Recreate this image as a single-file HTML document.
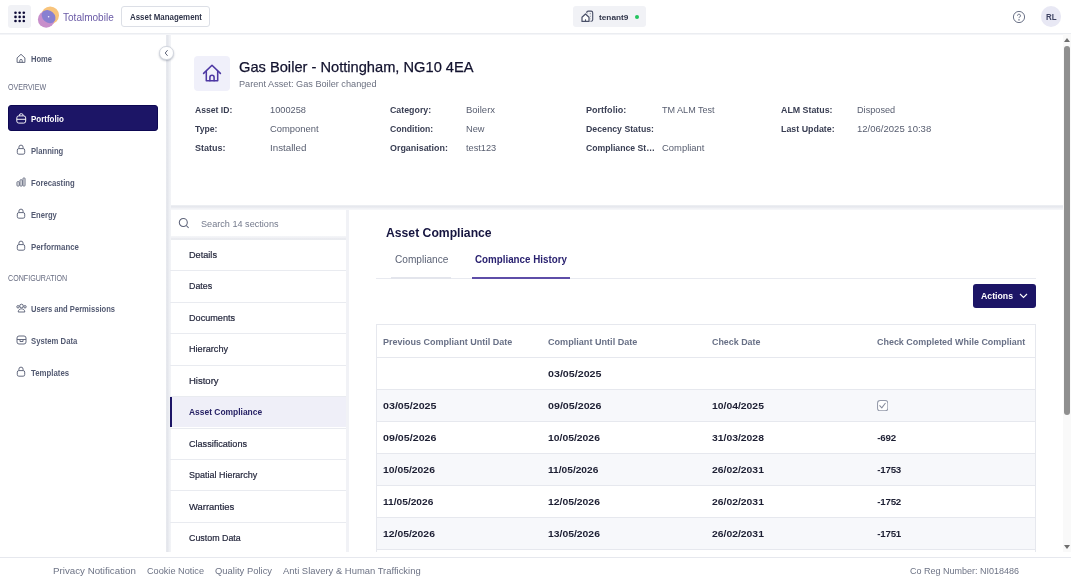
<!DOCTYPE html>
<html><head><meta charset="utf-8"><title>Asset Compliance</title>
<style>
html,body{margin:0;padding:0;width:1071px;height:581px;overflow:hidden;background:#fff;font-family:"Liberation Sans", Arial, sans-serif;}
.t{position:absolute;white-space:nowrap;transform-origin:0 0;}
</style></head><body>
<div style="position:absolute;left:0px;top:33px;width:1071px;height:2px;background:linear-gradient(to bottom,#ebedf1 0,#ebedf1 50%,#f4f5f8 50%)"></div>
<div style="position:absolute;left:8px;top:5px;width:23px;height:23px;background:#f1f2f6;border-radius:3px"></div>
<svg style="position:absolute;left:8px;top:5px" width="23" height="23" viewBox="0 0 23 23" fill="#0d0a36"><circle cx="7.50" cy="7.80" r="1.3"/><circle cx="7.50" cy="11.90" r="1.3"/><circle cx="7.50" cy="16.00" r="1.3"/><circle cx="11.65" cy="7.80" r="1.3"/><circle cx="11.65" cy="11.90" r="1.3"/><circle cx="11.65" cy="16.00" r="1.3"/><circle cx="15.80" cy="7.80" r="1.3"/><circle cx="15.80" cy="11.90" r="1.3"/><circle cx="15.80" cy="16.00" r="1.3"/></svg>
<svg style="position:absolute;left:35px;top:3px" width="28" height="28" viewBox="0 0 28 28">
<circle cx="15.2" cy="12.3" r="8.8" fill="#f8c47c"/>
<circle cx="11.2" cy="16.4" r="8.3" fill="#c88fcb"/>
<ellipse cx="13.6" cy="13.6" rx="7.5" ry="6" transform="rotate(42 13.6 13.6)" fill="#8880d1"/>
<circle cx="13.6" cy="13.7" r="0.8" fill="#f4f0ff"/>
</svg>
<div class="t" style="left:63.2px;top:12px;font-size:11.45px;line-height:11.45px;font-weight:400;color:#6a5aa6;transform:scaleX(0.877);">Totalmobile</div>
<div style="position:absolute;left:121px;top:6px;width:89px;height:20.5px;border:1px solid #dcdfe6;border-radius:3px;box-sizing:border-box"></div>
<div class="t" style="left:129.7px;top:13px;font-size:9.08px;line-height:9.08px;font-weight:700;color:#30354a;transform:scaleX(0.870);">Asset Management</div>
<div style="position:absolute;left:572.5px;top:6px;width:73.5px;height:20.5px;background:#f1f2f6;border-radius:3px"></div>
<svg style="position:absolute;left:580px;top:9px" width="14" height="14" viewBox="0 0 14 14" fill="none">
<rect x="6.7" y="2.1" width="6" height="10.2" rx="1.6" stroke="#4a5068" stroke-width="1.1"/>
<path d="M9.7 4.7h1.3M9.7 7.3h1.3M9.7 9.8h1.3" stroke="#9096a6" stroke-width="1"/>
<path d="M2 12.4V8.3L5.5 5 9 8.3v4.1z" fill="#f1f2f6" stroke="#f1f2f6" stroke-width="3" stroke-linejoin="round"/>
<path d="M2 12.4V8.3L5.5 5 9 8.3v4.1z" fill="#fff" stroke="#4a5068" stroke-width="1.2" stroke-linejoin="round"/>
<path d="M5.5 10.3v2.1" stroke="#4a5068" stroke-width="1.1"/>
</svg>
<div class="t" style="left:599.2px;top:14px;font-size:8.1px;line-height:8.1px;font-weight:700;color:#30354a;transform:scaleX(1.021);">tenant9</div>
<div style="position:absolute;left:634.5px;top:14.7px;width:4px;height:4px;background:#22c55e;border-radius:50%"></div>
<svg style="position:absolute;left:1012px;top:10px" width="14" height="14" viewBox="0 0 14 14" fill="none" stroke="#646b82" stroke-width="0.95">
<circle cx="7" cy="7" r="5.6"/><path d="M5.5 5.7a1.5 1.5 0 1 1 2.2 1.3c-.5.3-.7.6-.7 1.1"/><circle cx="7" cy="9.9" r=".3" fill="#646b82"/>
</svg>
<div style="position:absolute;left:1040.6px;top:6.3px;width:20.8px;height:20.8px;background:#e8e8f4;border-radius:50%"></div>
<div class="t" style="left:1045.7px;top:12px;font-size:9.5px;line-height:9.5px;font-weight:700;color:#3d4262;transform:scaleX(0.837);">RL</div>
<div style="position:absolute;left:166px;top:35px;width:4.7px;height:516.5px;background:linear-gradient(to right,#e8eaef 0,#e4e6ec 35%,#eef0f4 65%,#f3f4f7 100%)"></div>
<div style="position:absolute;left:170.7px;top:204.6px;width:892.3px;height:5px;background:linear-gradient(to bottom,#eff1f4 0,#e5e7ed 35%,#f0f1f5 65%,#f7f8fa 100%)"></div>
<div style="position:absolute;left:346px;top:209.6px;width:3px;height:342px;background:#f1f2f6"></div>
<div style="position:absolute;left:1063px;top:34px;width:8px;height:517.5px;background:#f9f9f9"></div>
<div style="position:absolute;left:1064px;top:46px;width:6px;height:369px;background:#8f8f8f;border-radius:3px"></div>
<div style="position:absolute;left:1064px;top:37.5px;width:0;height:0;border-left:3.5px solid transparent;border-right:3.5px solid transparent;border-bottom:4px solid #6e6e6e"></div>
<div style="position:absolute;left:1064px;top:544.9px;width:0;height:0;border-left:3px solid transparent;border-right:3px solid transparent;border-top:4.3px solid #6e6e6e"></div>
<div style="position:absolute;left:159.4px;top:45.8px;width:12.6px;height:12.6px;border-radius:50%;background:#fff;border:1px solid #d3d7df;box-shadow:0 1px 2px rgba(40,50,80,.28)"></div>
<svg style="position:absolute;left:163px;top:49px" width="7" height="8" viewBox="0 0 7 8"><path d="M4.6 1.2L2.2 4l2.4 2.8" fill="none" stroke="#4a5068" stroke-width="0.9"/></svg>
<svg style="position:absolute;left:16px;top:52.6px" width="10" height="11" viewBox="0 0 10 11" fill="none" stroke="#5d6379" stroke-width="0.95" stroke-linejoin="round"><path d="M1.1 9.4V4.9L5 1.3l3.9 3.6v4.5z"/><path d="M3.8 9.4V7.6a1.2 1.2 0 0 1 2.4 0v1.8"/></svg>
<div class="t" style="left:30.5px;top:56px;font-size:8.24px;line-height:8.24px;font-weight:700;color:#535a72;transform:scaleX(0.922);">Home</div>
<div class="t" style="left:7.8px;top:83px;font-size:8.8px;line-height:8.8px;font-weight:400;color:#666b80;transform:scaleX(0.808);">OVERVIEW</div>
<div style="position:absolute;left:8px;top:105px;width:150.2px;height:26px;background:#1c1566;border:1px solid #0d0852;border-radius:3px;box-sizing:border-box"></div>
<svg style="position:absolute;left:16px;top:112.8px" width="10.5" height="11" viewBox="0 0 10.5 11" fill="none" stroke="#fff" stroke-width="0.95"><rect x="0.8" y="2.9" width="8.9" height="7.2" rx="2"/><path d="M3.4 2.9V2.3a1.6 1.6 0 0 1 1.6-1.6h.5a1.6 1.6 0 0 1 1.6 1.6v.6M0.8 6.3h8.9"/></svg>
<div class="t" style="left:30.5px;top:115px;font-size:8.52px;line-height:8.52px;font-weight:700;color:#fff;transform:scaleX(0.937);">Portfolio</div>
<svg style="position:absolute;left:16px;top:144.0px" width="10" height="11" viewBox="0 0 10 11" fill="none" stroke="#5d6379" stroke-width="0.95"><rect x="1.3" y="4.6" width="7.4" height="5.6" rx="1.5"/><path d="M2.9 4.6V3.2a2.1 2.1 0 0 1 4.2 0v1.4"/></svg>
<div class="t" style="left:30.5px;top:148px;font-size:8.24px;line-height:8.24px;font-weight:700;color:#535a72;transform:scaleX(0.928);">Planning</div>
<svg style="position:absolute;left:16px;top:176.5px" width="10" height="10" viewBox="0 0 10 10" fill="none" stroke="#5d6379" stroke-width="0.95"><rect x="1" y="4.7" width="2.2" height="4.3" rx=".6"/><rect x="4" y="2.8" width="2.2" height="6.2" rx=".6"/><rect x="7" y="1" width="2" height="8" rx=".6"/></svg>
<div class="t" style="left:30.5px;top:180px;font-size:8.24px;line-height:8.24px;font-weight:700;color:#535a72;transform:scaleX(0.936);">Forecasting</div>
<svg style="position:absolute;left:16px;top:208.0px" width="10" height="11" viewBox="0 0 10 11" fill="none" stroke="#5d6379" stroke-width="0.95"><rect x="1.3" y="4.6" width="7.4" height="5.6" rx="1.5"/><path d="M2.9 4.6V3.2a2.1 2.1 0 0 1 4.2 0v1.4"/></svg>
<div class="t" style="left:30.5px;top:212px;font-size:8.24px;line-height:8.24px;font-weight:700;color:#535a72;transform:scaleX(0.924);">Energy</div>
<svg style="position:absolute;left:16px;top:240.0px" width="10" height="11" viewBox="0 0 10 11" fill="none" stroke="#5d6379" stroke-width="0.95"><rect x="1.3" y="4.6" width="7.4" height="5.6" rx="1.5"/><path d="M2.9 4.6V3.2a2.1 2.1 0 0 1 4.2 0v1.4"/></svg>
<div class="t" style="left:30.5px;top:244px;font-size:8.24px;line-height:8.24px;font-weight:700;color:#535a72;transform:scaleX(0.953);">Performance</div>
<div class="t" style="left:7.9px;top:274px;font-size:8.8px;line-height:8.8px;font-weight:400;color:#666b80;transform:scaleX(0.809);">CONFIGURATION</div>
<svg style="position:absolute;left:16px;top:303px" width="11" height="10" viewBox="0 0 11 10" fill="none" stroke="#5d6379" stroke-width="0.95"><circle cx="5.5" cy="3" r="1.8"/><path d="M2.2 9c0-2 1.5-3.2 3.3-3.2S8.8 7 8.8 9z"/><circle cx="2" cy="3.8" r="1.2"/><circle cx="9" cy="3.8" r="1.2"/></svg>
<div class="t" style="left:30.6px;top:306px;font-size:8.24px;line-height:8.24px;font-weight:700;color:#535a72;transform:scaleX(0.923);">Users and Permissions</div>
<svg style="position:absolute;left:16px;top:335px" width="11" height="10" viewBox="0 0 11 10" fill="none" stroke="#5d6379" stroke-width="0.95"><rect x="1" y="1" width="9" height="8" rx="2"/><path d="M1 4.5h9M4 4.5v2h3v-2"/></svg>
<div class="t" style="left:30.6px;top:338px;font-size:8.24px;line-height:8.24px;font-weight:700;color:#535a72;transform:scaleX(0.936);">System Data</div>
<svg style="position:absolute;left:16px;top:366.0px" width="10" height="11" viewBox="0 0 10 11" fill="none" stroke="#5d6379" stroke-width="0.95"><rect x="1.3" y="4.6" width="7.4" height="5.6" rx="1.5"/><path d="M2.9 4.6V3.2a2.1 2.1 0 0 1 4.2 0v1.4"/></svg>
<div class="t" style="left:30.6px;top:370px;font-size:8.24px;line-height:8.24px;font-weight:700;color:#535a72;transform:scaleX(0.952);">Templates</div>
<div style="position:absolute;left:194px;top:55.5px;width:36px;height:35.5px;background:#f0f0fa;border-radius:4px"></div>
<svg style="position:absolute;left:202px;top:63px" width="20" height="20" viewBox="0 0 20 20" fill="none" stroke="#4d37a3" stroke-width="1.55" stroke-linejoin="round" stroke-linecap="round"><path d="M1.6 10.4L10 2.3l8.4 8.1"/><path d="M4.3 8.4v9.3h11.4V8.4"/><path d="M7.9 17.7v-3.3a2.1 2.1 0 0 1 4.2 0v3.3"/></svg>
<div class="t" style="left:239px;top:60px;font-size:14.94px;line-height:14.94px;font-weight:400;color:#12122e;transform:scaleX(0.981);-webkit-text-stroke:0.25px #12122e">Gas Boiler - Nottingham, NG10 4EA</div>
<div class="t" style="left:239px;top:80px;font-size:8.94px;line-height:8.94px;font-weight:400;color:#6b7080;transform:scaleX(1.027);">Parent Asset: Gas Boiler changed</div>
<div class="t" style="left:194.6px;top:105px;font-size:9.78px;line-height:9.78px;font-weight:700;color:#393e53;transform:scaleX(0.882);">Asset ID:</div>
<div class="t" style="left:270px;top:105px;font-size:9.78px;line-height:9.78px;font-weight:400;color:#575d6f;transform:scaleX(0.946);">1000258</div>
<div class="t" style="left:194.6px;top:124px;font-size:9.78px;line-height:9.78px;font-weight:700;color:#393e53;transform:scaleX(0.887);">Type:</div>
<div class="t" style="left:270px;top:124px;font-size:9.78px;line-height:9.78px;font-weight:400;color:#575d6f;transform:scaleX(0.963);">Component</div>
<div class="t" style="left:194.6px;top:143px;font-size:9.78px;line-height:9.78px;font-weight:700;color:#393e53;transform:scaleX(0.923);">Status:</div>
<div class="t" style="left:270px;top:143px;font-size:9.78px;line-height:9.78px;font-weight:400;color:#575d6f;">Installed</div>
<div class="t" style="left:390.1px;top:105px;font-size:9.78px;line-height:9.78px;font-weight:700;color:#393e53;transform:scaleX(0.903);">Category:</div>
<div class="t" style="left:466px;top:105px;font-size:9.78px;line-height:9.78px;font-weight:400;color:#575d6f;transform:scaleX(0.973);">Boilerx</div>
<div class="t" style="left:390.1px;top:124px;font-size:9.78px;line-height:9.78px;font-weight:700;color:#393e53;transform:scaleX(0.886);">Condition:</div>
<div class="t" style="left:466px;top:124px;font-size:9.78px;line-height:9.78px;font-weight:400;color:#575d6f;transform:scaleX(0.946);">New</div>
<div class="t" style="left:390.1px;top:143px;font-size:9.78px;line-height:9.78px;font-weight:700;color:#393e53;transform:scaleX(0.912);">Organisation:</div>
<div class="t" style="left:466px;top:143px;font-size:9.78px;line-height:9.78px;font-weight:400;color:#575d6f;transform:scaleX(0.944);">test123</div>
<div class="t" style="left:585.9px;top:105px;font-size:9.78px;line-height:9.78px;font-weight:700;color:#393e53;transform:scaleX(0.927);">Portfolio:</div>
<div class="t" style="left:661.8px;top:105px;font-size:9.78px;line-height:9.78px;font-weight:400;color:#575d6f;transform:scaleX(0.926);">TM ALM Test</div>
<div class="t" style="left:585.9px;top:124px;font-size:9.78px;line-height:9.78px;font-weight:700;color:#393e53;transform:scaleX(0.895);">Decency Status:</div>
<div class="t" style="left:585.9px;top:143px;font-size:9.78px;line-height:9.78px;font-weight:700;color:#393e53;transform:scaleX(0.887);">Compliance St…</div>
<div class="t" style="left:661.8px;top:143px;font-size:9.78px;line-height:9.78px;font-weight:400;color:#575d6f;transform:scaleX(0.965);">Compliant</div>
<div class="t" style="left:781.4px;top:105px;font-size:9.78px;line-height:9.78px;font-weight:700;color:#393e53;transform:scaleX(0.905);">ALM Status:</div>
<div class="t" style="left:857px;top:105px;font-size:9.78px;line-height:9.78px;font-weight:400;color:#575d6f;transform:scaleX(0.937);">Disposed</div>
<div class="t" style="left:781.4px;top:124px;font-size:9.78px;line-height:9.78px;font-weight:700;color:#393e53;transform:scaleX(0.908);">Last Update:</div>
<div class="t" style="left:857px;top:124px;font-size:9.78px;line-height:9.78px;font-weight:400;color:#575d6f;transform:scaleX(0.976);">12/06/2025 10:38</div>
<svg style="position:absolute;left:178px;top:217px" width="12" height="12" viewBox="0 0 12 12" fill="none" stroke="#5d6379" stroke-width="1.05"><circle cx="5.3" cy="5.5" r="4"/><path d="M8.3 8.5l2.3 2.3"/></svg>
<div class="t" style="left:201.2px;top:220px;font-size:9.36px;line-height:9.36px;font-weight:400;color:#747a8c;transform:scaleX(0.976);">Search 14 sections</div>
<div style="position:absolute;left:170.7px;top:235.7px;width:175.3px;height:4.1px;background:linear-gradient(to bottom,#f5f6f8 0,#f0f1f5 45%,#e6e8ed 75%,#eef0f3 100%)"></div>
<div class="t" style="left:189.1px;top:250px;font-size:9.64px;line-height:9.64px;font-weight:400;color:#1f2238;transform:scaleX(0.950);-webkit-text-stroke:0.2px #1f2238">Details</div>
<div style="position:absolute;left:170px;top:270.25px;width:176px;height:1px;background:#e9ebf0"></div>
<div class="t" style="left:189.1px;top:281px;font-size:9.64px;line-height:9.64px;font-weight:400;color:#1f2238;transform:scaleX(0.921);-webkit-text-stroke:0.2px #1f2238">Dates</div>
<div style="position:absolute;left:170px;top:301.7px;width:176px;height:1px;background:#e9ebf0"></div>
<div class="t" style="left:189.1px;top:313px;font-size:9.64px;line-height:9.64px;font-weight:400;color:#1f2238;transform:scaleX(0.946);-webkit-text-stroke:0.2px #1f2238">Documents</div>
<div style="position:absolute;left:170px;top:333.15px;width:176px;height:1px;background:#e9ebf0"></div>
<div class="t" style="left:189.1px;top:344px;font-size:9.64px;line-height:9.64px;font-weight:400;color:#1f2238;transform:scaleX(0.948);-webkit-text-stroke:0.2px #1f2238">Hierarchy</div>
<div style="position:absolute;left:170px;top:364.6px;width:176px;height:1px;background:#e9ebf0"></div>
<div class="t" style="left:189.1px;top:376px;font-size:9.64px;line-height:9.64px;font-weight:400;color:#1f2238;transform:scaleX(0.987);-webkit-text-stroke:0.2px #1f2238">History</div>
<div style="position:absolute;left:170px;top:396.05px;width:176px;height:1px;background:#e9ebf0"></div>
<div style="position:absolute;left:170px;top:397.05px;width:176px;height:30.45px;background:#efeff8"></div>
<div style="position:absolute;left:170px;top:397.05px;width:2px;height:30.45px;background:#1c1566"></div>
<div class="t" style="left:189.1px;top:407px;font-size:9.5px;line-height:9.5px;font-weight:700;color:#272265;transform:scaleX(0.888);">Asset Compliance</div>
<div style="position:absolute;left:170px;top:427.5px;width:176px;height:1px;background:#e9ebf0"></div>
<div class="t" style="left:189.1px;top:439px;font-size:9.64px;line-height:9.64px;font-weight:400;color:#1f2238;transform:scaleX(0.943);-webkit-text-stroke:0.2px #1f2238">Classifications</div>
<div style="position:absolute;left:170px;top:458.95px;width:176px;height:1px;background:#e9ebf0"></div>
<div class="t" style="left:189.1px;top:470px;font-size:9.64px;line-height:9.64px;font-weight:400;color:#1f2238;transform:scaleX(0.932);-webkit-text-stroke:0.2px #1f2238">Spatial Hierarchy</div>
<div style="position:absolute;left:170px;top:490.4px;width:176px;height:1px;background:#e9ebf0"></div>
<div class="t" style="left:189.1px;top:502px;font-size:9.64px;line-height:9.64px;font-weight:400;color:#1f2238;transform:scaleX(0.980);-webkit-text-stroke:0.2px #1f2238">Warranties</div>
<div style="position:absolute;left:170px;top:521.85px;width:176px;height:1px;background:#e9ebf0"></div>
<div class="t" style="left:189.1px;top:533px;font-size:9.64px;line-height:9.64px;font-weight:400;color:#1f2238;transform:scaleX(0.921);-webkit-text-stroke:0.2px #1f2238">Custom Data</div>
<div class="t" style="left:386.3px;top:226px;font-size:13.41px;line-height:13.41px;font-weight:700;color:#15143f;transform:scaleX(0.909);">Asset Compliance</div>
<div class="t" style="left:394.5px;top:255px;font-size:10.2px;line-height:10.2px;font-weight:400;color:#5c6376;transform:scaleX(0.993);">Compliance</div>
<div class="t" style="left:475.4px;top:255px;font-size:10.2px;line-height:10.2px;font-weight:700;color:#2a2270;transform:scaleX(0.961);">Compliance History</div>
<div style="position:absolute;left:376px;top:278px;width:660px;height:1px;background:#e8eaf0"></div>
<div style="position:absolute;left:391px;top:277px;width:60px;height:1.5px;background:#e3e5ec"></div>
<div style="position:absolute;left:472.2px;top:277px;width:98px;height:2px;background:#5e4ea8"></div>
<div style="position:absolute;left:973px;top:284px;width:63px;height:24px;background:#1c1566;border-radius:3px"></div>
<div class="t" style="left:981px;top:291px;font-size:9.5px;line-height:9.5px;font-weight:700;color:#fff;transform:scaleX(0.919);">Actions</div>
<svg style="position:absolute;left:1019px;top:292.5px" width="9" height="6" viewBox="0 0 9 6" fill="none" stroke="#fff" stroke-width="1.1"><path d="M1 1l3.5 3.5L8 1"/></svg>
<div style="position:absolute;left:376px;top:324px;width:660px;height:240px;border:1px solid #e6e8ee;box-sizing:border-box;background:#fff"></div>
<div class="t" style="left:383px;top:337px;font-size:9.78px;line-height:9.78px;font-weight:700;color:#687086;transform:scaleX(0.923);">Previous Compliant Until Date</div>
<div class="t" style="left:547.6px;top:337px;font-size:9.78px;line-height:9.78px;font-weight:700;color:#687086;transform:scaleX(0.931);">Compliant Until Date</div>
<div class="t" style="left:712.2px;top:337px;font-size:9.78px;line-height:9.78px;font-weight:700;color:#687086;transform:scaleX(0.910);">Check Date</div>
<div class="t" style="left:877.3px;top:337px;font-size:9.78px;line-height:9.78px;font-weight:700;color:#687086;transform:scaleX(0.916);">Check Completed While Compliant</div>
<div style="position:absolute;left:377px;top:357.0px;width:658px;height:1px;background:#e6e8ee"></div>
<div class="t" style="left:547.6px;top:369px;font-size:9.78px;line-height:9.78px;font-weight:700;color:#1d1f33;transform:scaleX(1.095);">03/05/2025</div>
<div style="position:absolute;left:377px;top:389.0px;width:658px;height:1px;background:#e6e8ee"></div>
<div style="position:absolute;left:377px;top:390.0px;width:658px;height:31.0px;background:#f7f8fb"></div>
<div class="t" style="left:383px;top:401px;font-size:9.78px;line-height:9.78px;font-weight:700;color:#1d1f33;transform:scaleX(1.095);">03/05/2025</div>
<div class="t" style="left:547.6px;top:401px;font-size:9.78px;line-height:9.78px;font-weight:700;color:#1d1f33;transform:scaleX(1.095);">09/05/2026</div>
<div class="t" style="left:712.2px;top:401px;font-size:9.78px;line-height:9.78px;font-weight:700;color:#1d1f33;transform:scaleX(1.062);">10/04/2025</div>
<svg style="position:absolute;left:876.8px;top:400.0px" width="11.4" height="11.4" viewBox="0 0 11.4 11.4" fill="none"><rect x=".55" y=".55" width="10.3" height="10.3" rx="2.6" fill="#fff" stroke="#959bab" stroke-width="1.05"/><path d="M2.7 5.7l2.1 2.2 3.5-4.6" stroke="#858b9c" stroke-width="1.05" stroke-linecap="round" stroke-linejoin="round"/></svg>
<div style="position:absolute;left:377px;top:421.0px;width:658px;height:1px;background:#e6e8ee"></div>
<div class="t" style="left:383px;top:433px;font-size:9.78px;line-height:9.78px;font-weight:700;color:#1d1f33;transform:scaleX(1.095);">09/05/2026</div>
<div class="t" style="left:547.6px;top:433px;font-size:9.78px;line-height:9.78px;font-weight:700;color:#1d1f33;transform:scaleX(1.062);">10/05/2026</div>
<div class="t" style="left:712.2px;top:433px;font-size:9.78px;line-height:9.78px;font-weight:700;color:#1d1f33;transform:scaleX(1.062);">31/03/2028</div>
<div class="t" style="left:877.3px;top:433px;font-size:9.78px;line-height:9.78px;font-weight:700;color:#1d1f33;letter-spacing:-0.25px">-692</div>
<div style="position:absolute;left:377px;top:453.0px;width:658px;height:1px;background:#e6e8ee"></div>
<div style="position:absolute;left:377px;top:454.0px;width:658px;height:31.0px;background:#f7f8fb"></div>
<div class="t" style="left:383px;top:465px;font-size:9.78px;line-height:9.78px;font-weight:700;color:#1d1f33;transform:scaleX(1.062);">10/05/2026</div>
<div class="t" style="left:547.6px;top:465px;font-size:9.78px;line-height:9.78px;font-weight:700;color:#1d1f33;transform:scaleX(1.041);">11/05/2026</div>
<div class="t" style="left:712.2px;top:465px;font-size:9.78px;line-height:9.78px;font-weight:700;color:#1d1f33;transform:scaleX(1.062);">26/02/2031</div>
<div class="t" style="left:877.3px;top:465px;font-size:9.78px;line-height:9.78px;font-weight:700;color:#1d1f33;letter-spacing:-0.25px">-1753</div>
<div style="position:absolute;left:377px;top:485.0px;width:658px;height:1px;background:#e6e8ee"></div>
<div class="t" style="left:383px;top:497px;font-size:9.78px;line-height:9.78px;font-weight:700;color:#1d1f33;transform:scaleX(1.041);">11/05/2026</div>
<div class="t" style="left:547.6px;top:497px;font-size:9.78px;line-height:9.78px;font-weight:700;color:#1d1f33;transform:scaleX(1.062);">12/05/2026</div>
<div class="t" style="left:712.2px;top:497px;font-size:9.78px;line-height:9.78px;font-weight:700;color:#1d1f33;transform:scaleX(1.062);">26/02/2031</div>
<div class="t" style="left:877.3px;top:497px;font-size:9.78px;line-height:9.78px;font-weight:700;color:#1d1f33;letter-spacing:-0.25px">-1752</div>
<div style="position:absolute;left:377px;top:517.0px;width:658px;height:1px;background:#e6e8ee"></div>
<div style="position:absolute;left:377px;top:518.0px;width:658px;height:31.0px;background:#f7f8fb"></div>
<div class="t" style="left:383px;top:529px;font-size:9.78px;line-height:9.78px;font-weight:700;color:#1d1f33;transform:scaleX(1.062);">12/05/2026</div>
<div class="t" style="left:547.6px;top:529px;font-size:9.78px;line-height:9.78px;font-weight:700;color:#1d1f33;transform:scaleX(1.062);">13/05/2026</div>
<div class="t" style="left:712.2px;top:529px;font-size:9.78px;line-height:9.78px;font-weight:700;color:#1d1f33;transform:scaleX(1.062);">26/02/2031</div>
<div class="t" style="left:877.3px;top:529px;font-size:9.78px;line-height:9.78px;font-weight:700;color:#1d1f33;letter-spacing:-0.25px">-1751</div>
<div style="position:absolute;left:377px;top:549px;width:658px;height:1px;background:#e6e8ee"></div>
<div style="position:absolute;left:0px;top:551.5px;width:1071px;height:30px;background:#fff"></div>
<div style="position:absolute;left:0px;top:557px;width:1071px;height:1px;background:#e6e8ee"></div>
<div class="t" style="left:52.6px;top:567px;font-size:8.94px;line-height:8.94px;font-weight:400;color:#6d7385;transform:scaleX(1.092);">Privacy Notification</div>
<div class="t" style="left:146.6px;top:567px;font-size:8.94px;line-height:8.94px;font-weight:400;color:#6d7385;transform:scaleX(1.026);">Cookie Notice</div>
<div class="t" style="left:214.7px;top:567px;font-size:8.94px;line-height:8.94px;font-weight:400;color:#6d7385;transform:scaleX(1.056);">Quality Policy</div>
<div class="t" style="left:282.8px;top:567px;font-size:8.94px;line-height:8.94px;font-weight:400;color:#6d7385;transform:scaleX(1.057);">Anti Slavery &amp; Human Trafficking</div>
<div class="t" style="left:909.5px;top:567px;font-size:8.94px;line-height:8.94px;font-weight:400;color:#6d7385;transform:scaleX(1.008);">Co Reg Number: NI018486</div>
</body></html>
